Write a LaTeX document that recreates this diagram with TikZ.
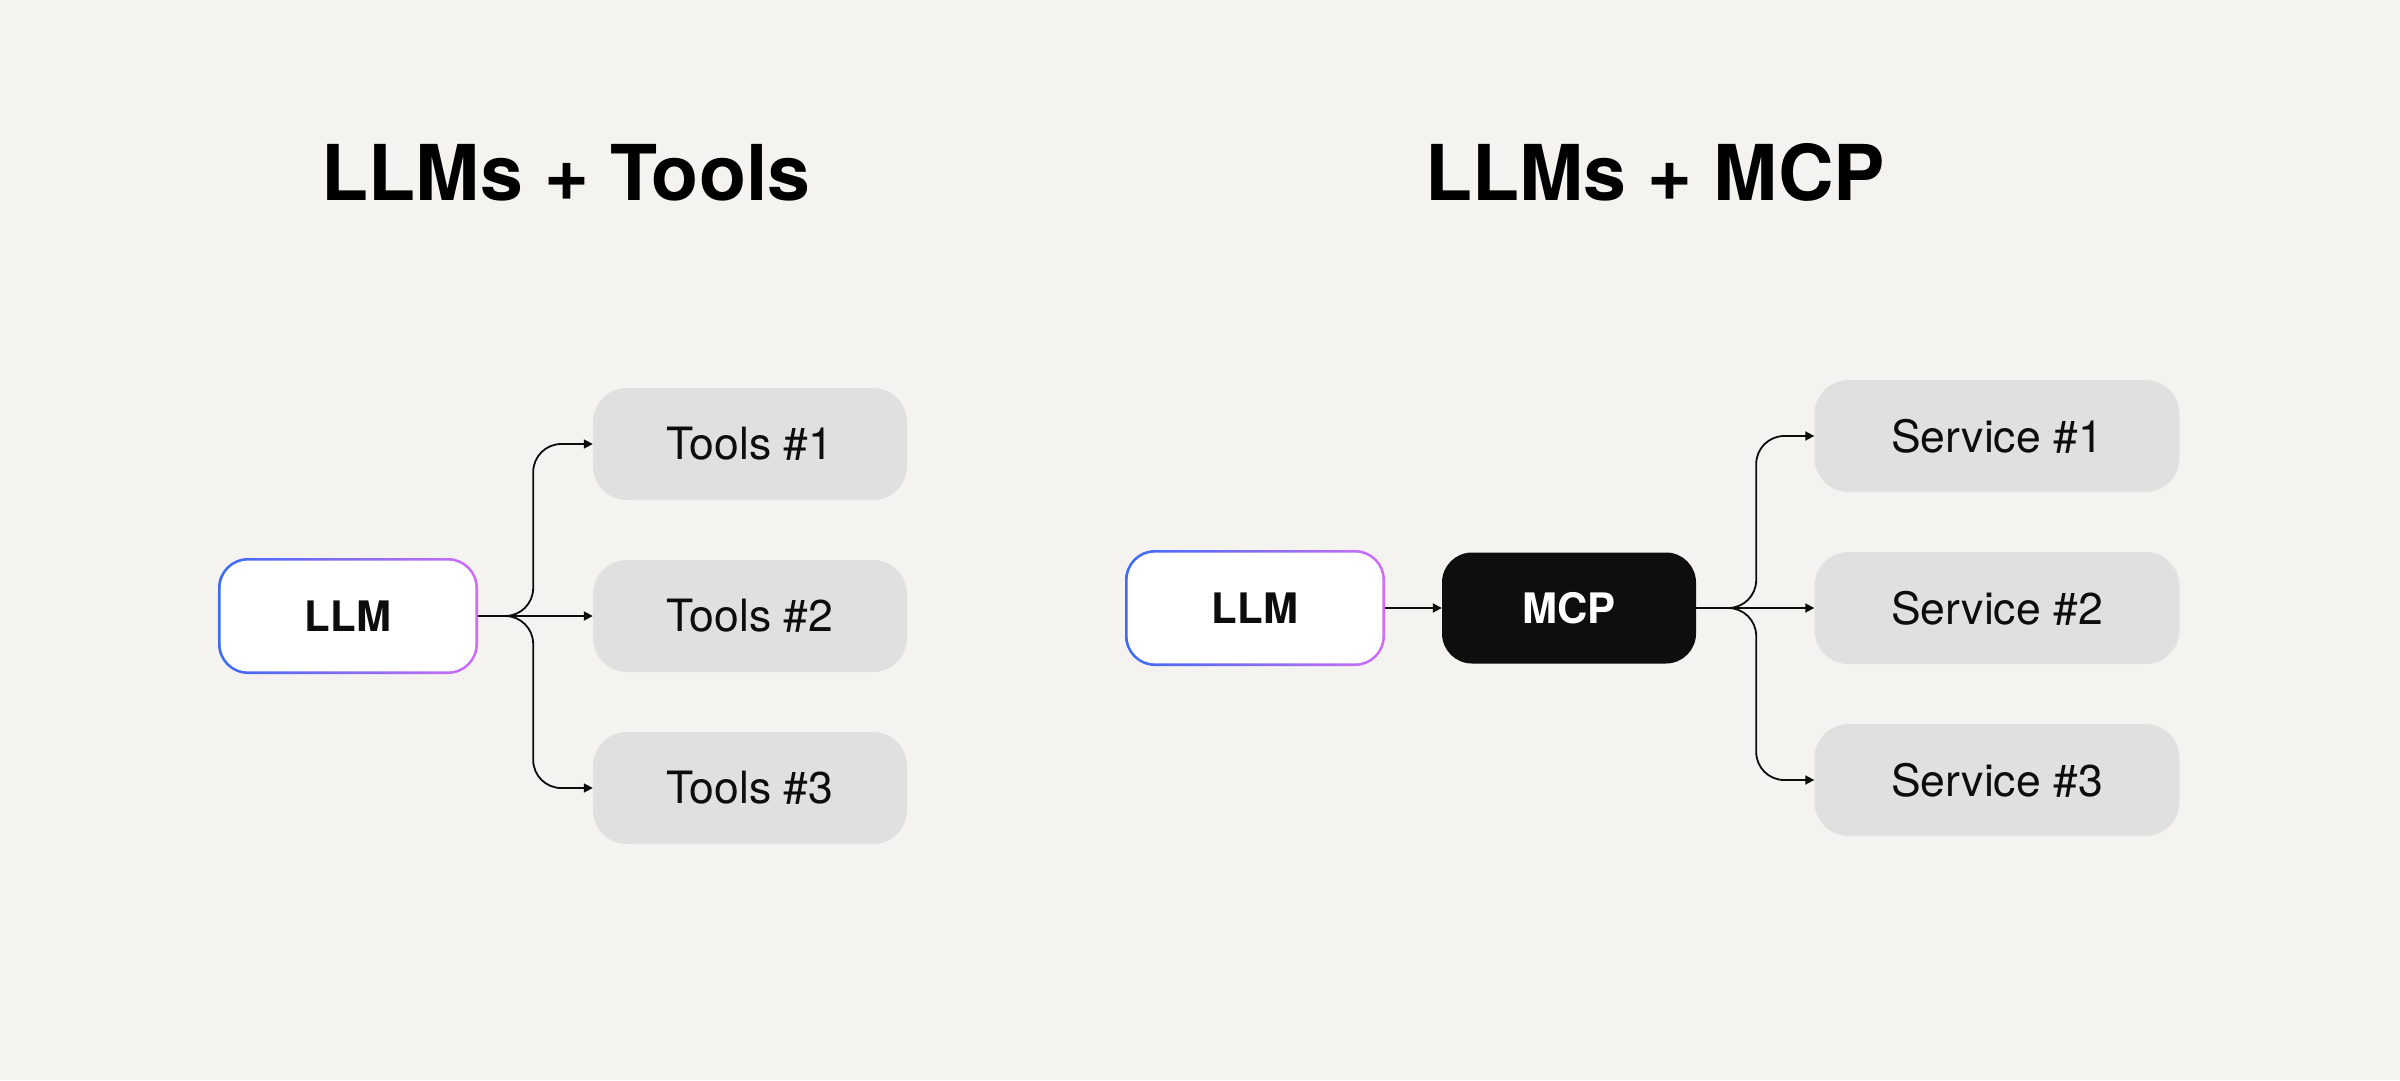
\documentclass[tikz,border=0pt]{standalone}
\usepackage{fontspec}
\setmainfont{TeX Gyre Heros}
\usetikzlibrary{arrows.meta}
\definecolor{bg}{HTML}{F4F3F0}
\definecolor{boxgray}{HTML}{E0E0E0}
\definecolor{ink}{HTML}{0D0D0D}
\definecolor{mcpblack}{HTML}{0E0E0E}
\definecolor{gradA}{HTML}{3A6AF8}
\definecolor{gradB}{HTML}{CF6EF7}
\begin{document}
\begin{tikzpicture}[x=1pt,y=-1pt,
  conn/.style={line width=1.8pt, draw=ink, -{Triangle[length=9pt,width=9pt]}, rounded corners=28pt},
  graybox/.style={fill=boxgray, rounded corners=34pt, inner sep=0pt, minimum height=112pt,
    text=ink, font=\fontsize{44.5pt}{50pt}\selectfont},
  llmbox/.style={rounded corners=30pt, inner sep=0pt, minimum width=260pt, minimum height=116pt,
    text=ink, font=\bfseries\fontsize{42pt}{50pt}\selectfont,
    path picture={
      \shade[left color=gradA, right color=gradB]
        (path picture bounding box.south west) rectangle (path picture bounding box.north east);
      \fill[white, rounded corners=27.5pt]
        ([shift={(2.6pt,2.6pt)}]path picture bounding box.south west) rectangle
        ([shift={(-2.6pt,-2.6pt)}]path picture bounding box.north east);
    }},
  mcpbox/.style={fill=mcpblack, rounded corners=30pt, inner sep=0pt, minimum width=254pt,
    minimum height=111pt, text=white, font=\bfseries\fontsize{42pt}{50pt}\selectfont},
  titletext/.style={text=black, inner sep=0pt, font=\bfseries\fontsize{77pt}{90pt}\selectfont}
]
\useasboundingbox (0,0) rectangle (2400,1080);
\fill[bg] (0,0) rectangle (2400,1080);

% titles
\node[titletext, anchor=base] (title1) at (566,200) {LLMs + Tools};
\node[titletext, anchor=base] (title2) at (1655,200) {LLMs + MCP};

% left diagram
\node[llmbox] (llm1) at (348,616) {LLM};
\node[graybox, minimum width=314pt] (tools1) at (750,444) {Tools \#1};
\node[graybox, minimum width=314pt] (tools2) at (750,616) {Tools \#2};
\node[graybox, minimum width=314pt] (tools3) at (750,788) {Tools \#3};

\draw[conn] (llm1.east) -- ++(55pt,0pt) |- (tools1.west);
\draw[conn] (llm1.east) -- (tools2.west);
\draw[conn] (llm1.east) -- ++(55pt,0pt) |- (tools3.west);

% right diagram
\node[llmbox] (llm2) at (1255,608) {LLM};
\node[mcpbox] (mcp) at (1569,608) {MCP};
\node[graybox, minimum width=365pt] (svc1) at (1997,436) {Service \#1};
\node[graybox, minimum width=365pt] (svc2) at (1997,608) {Service \#2};
\node[graybox, minimum width=365pt] (svc3) at (1997,780) {Service \#3};

\draw[conn] (llm2.east) -- (mcp.west);
\draw[conn] (mcp.east) -- ++(60pt,0pt) |- (svc1.west);
\draw[conn] (mcp.east) -- (svc2.west);
\draw[conn] (mcp.east) -- ++(60pt,0pt) |- (svc3.west);
\end{tikzpicture}
\end{document}
